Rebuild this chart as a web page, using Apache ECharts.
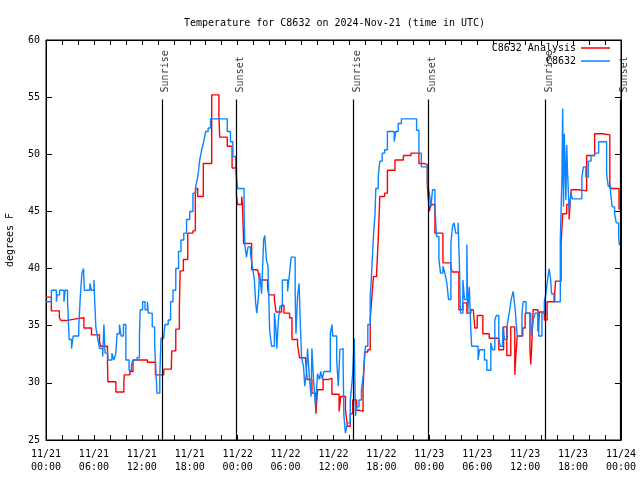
<!DOCTYPE html>
<html><head><meta charset="utf-8">
<script src="https://cdn.jsdelivr.net/npm/echarts@6/dist/echarts.min.js"></script>
<style>html,body{margin:0;padding:0;background:#fff}#c{width:640px;height:480px}</style>
</head><body><div id="c"></div><script>
const FONT = '"DejaVu Sans Mono", "Liberation Mono", monospace';
const titleText = 'Temperature for C8632 on 2024-Nov-21 (time in UTC)';
const xTickLabels = ['11/21\n00:00','11/21\n06:00','11/21\n12:00','11/21\n18:00',
  '11/22\n00:00','11/22\n06:00','11/22\n12:00','11/22\n18:00',
  '11/23\n00:00','11/23\n06:00','11/23\n12:00','11/23\n18:00','11/24\n00:00'];
const sunHours = [14.5, 23.875, 38.5, 47.875, 62.5, 71.875];
const sunNames = ['Sunrise','Sunset','Sunrise','Sunset','Sunrise','Sunset'];
// [hours since 11/21 00:00 UTC, degrees F]
const analysisData = [[0,37.5],[0.67,36.3],[1.67,35.7],[1.9,35.45],[2.5,35.6],[3.75,35.7],[4.75,34.8],[5.7,34.2],[6.7,33.6],[6.85,33.2],[7.7,31.8],[7.75,30.1],[8.75,29.2],[9.75,30.1],[9.8,30.7],[10.5,31.0],[10.9,32.0],[12.7,31.8],[13.7,30.7],[14.75,31.2],[15.7,31.7],[15.75,32.8],[16.25,34.7],[16.7,36.7],[16.8,39.8],[17.2,40.8],[17.75,43.1],[18.4,43.3],[18.7,47.0],[19.0,46.3],[19.7,49.2],[20.75,55.2],[21.65,53.4],[21.75,51.5],[22.7,50.7],[23.3,48.8],[23.85,46.4],[24.0,45.6],[24.5,46.3],[24.6,45.6],[24.75,42.2],[25.75,39.9],[26.5,39.8],[26.75,39.0],[27.75,38.3],[27.9,37.7],[28.6,37.3],[28.8,36.2],[29.5,36.8],[29.8,36.1],[30.5,35.7],[30.8,33.8],[31.5,33.3],[31.75,32.2],[32.5,32.0],[32.7,30.3],[33.3,29.1],[33.75,28.4],[33.8,27.3],[33.9,28.4],[34.0,29.4],[34.7,30.3],[35.4,30.4],[35.8,29.0],[36.7,27.5],[36.9,28.8],[37.5,27.6],[37.75,26.2],[38.1,27.3],[38.4,28.5],[38.9,27.6],[39.3,27.5],[39.7,29.4],[39.9,32.7],[40.3,32.9],[40.6,35.5],[40.75,37.0],[41.0,39.3],[41.4,39.7],[41.6,42.5],[41.8,46.3],[42.4,46.6],[42.75,48.6],[43.7,49.5],[44.75,49.9],[45.7,50.1],[46.7,49.2],[47.3,49.1],[47.75,47.2],[48.0,45.0],[48.2,45.6],[48.7,43.1],[49.7,40.5],[50.7,40.0],[50.9,39.7],[51.7,36.4],[52.2,37.0],[52.7,36.1],[53.2,36.4],[53.5,36.5],[53.7,34.8],[54.0,35.9],[54.7,34.3],[55.5,33.9],[56.7,32.9],[57.3,34.9],[57.7,32.4],[58.2,34.9],[58.7,30.7],[58.8,32.0],[59.0,34.1],[59.7,34.8],[60.0,36.1],[60.6,32.9],[60.7,31.6],[60.8,32.9],[61.0,36.4],[61.6,34.5],[61.8,36.2],[62.4,35.5],[62.75,37.1],[63.7,37.8],[63.8,38.9],[64.5,42.2],[64.7,44.8],[65.2,45.6],[65.5,44.3],[65.75,46.9],[66.7,46.8],[67.7,49.9],[68.7,51.8],[69.7,51.7],[70.6,47.0],[71.75,45.2],[72,45.2]];
const observedData = [[0,37.1],[0.67,38.1],[1.3,37.1],[1.4,37.7],[1.7,38.1],[2.25,37.1],[2.4,38.1],[2.7,37.1],[2.9,33.8],[3.2,33.0],[3.4,34.1],[4.1,34.9],[4.3,37.6],[4.5,39.6],[4.7,40.0],[4.8,38.1],[5.5,38.7],[5.7,38.1],[6.0,39.0],[6.1,37.1],[6.25,34.8],[6.5,33.8],[6.7,33.0],[7.1,32.3],[7.25,35.1],[7.4,32.6],[7.75,32.0],[8.25,32.6],[8.5,32.0],[8.75,32.6],[8.9,34.3],[9.2,35.1],[9.4,34.1],[9.7,35.1],[10.0,32.0],[10.4,31.1],[10.7,31.6],[10.9,32.0],[11.4,32.2],[11.7,34.1],[11.8,36.4],[12.1,37.1],[12.4,36.4],[12.7,37.1],[12.8,36.1],[13.3,34.9],[13.6,33.5],[13.75,31.1],[13.9,29.1],[14.25,30.6],[14.4,33.9],[14.75,34.1],[14.9,35.1],[15.3,35.5],[15.6,37.1],[15.9,38.1],[16.25,40.0],[16.6,41.5],[16.9,42.5],[17.25,43.1],[17.6,44.3],[18.0,45.0],[18.4,46.6],[18.75,47.2],[19.0,48.0],[19.25,49.5],[19.5,50.4],[19.75,51.1],[20.0,52.0],[20.3,52.3],[20.6,53.1],[22.7,52.0],[23.1,51.1],[23.4,49.8],[23.75,48.6],[24.0,47.0],[24.8,45.0],[24.9,42.1],[25.1,41.0],[25.3,41.9],[25.6,41.3],[25.75,40.6],[25.9,39.9],[26.1,39.0],[26.25,37.0],[26.4,36.1],[26.6,37.6],[26.75,39.6],[27.0,37.8],[27.25,42.5],[27.4,42.9],[27.6,40.8],[27.8,40.2],[28.0,34.6],[28.25,33.2],[28.6,36.1],[28.8,34.6],[28.9,33.0],[29.1,35.5],[29.3,36.7],[29.6,39.0],[30.25,38.0],[30.5,39.6],[30.7,41.0],[31.2,37.8],[31.3,34.3],[31.5,37.6],[31.7,38.7],[31.8,36.1],[32.0,32.2],[32.25,31.4],[32.4,29.7],[32.6,30.8],[32.75,33.0],[33.0,30.3],[33.2,28.8],[33.3,33.0],[33.5,30.3],[33.75,27.9],[34.0,30.8],[34.25,30.3],[34.4,31.0],[34.6,30.3],[34.8,31.0],[35.6,34.3],[35.8,35.1],[35.9,34.1],[36.4,32.0],[36.6,29.7],[36.8,32.9],[37.0,33.0],[37.2,31.7],[37.3,27.1],[37.5,25.6],[37.75,26.5],[38.1,28.5],[38.25,29.5],[38.4,30.8],[38.6,33.9],[38.75,27.1],[38.9,27.9],[39.2,28.5],[39.5,29.4],[39.75,30.8],[40.0,33.2],[40.3,35.1],[40.6,37.6],[40.75,39.3],[41.0,42.8],[41.2,44.8],[41.3,47.0],[41.6,48.0],[41.8,49.4],[42.1,50.1],[42.4,50.4],[42.75,52.0],[43.6,51.1],[43.8,52.0],[44.1,52.7],[44.5,53.1],[46.4,52.1],[46.7,50.1],[47.0,48.9],[47.75,47.5],[48.0,46.6],[48.2,45.4],[48.4,46.9],[48.7,45.4],[48.9,42.8],[49.2,40.8],[49.4,39.6],[49.7,40.2],[49.95,39.6],[50.2,38.7],[50.4,37.3],[50.7,42.2],[50.9,43.7],[51.1,44.0],[51.3,43.1],[51.6,44.0],[51.75,40.8],[51.9,36.1],[52.2,39.0],[52.4,37.3],[52.7,42.1],[52.8,36.1],[53.0,38.4],[53.2,34.6],[53.3,33.2],[54.1,32.0],[54.3,32.9],[54.9,32.0],[55.2,31.1],[55.7,33.5],[55.9,32.9],[56.2,35.5],[56.4,35.9],[56.7,33.8],[56.9,33.2],[57.2,34.9],[57.4,33.8],[57.75,35.1],[58.0,36.1],[58.25,37.3],[58.5,38.0],[58.75,36.4],[59.0,34.1],[59.6,36.1],[59.75,37.1],[60.1,36.1],[60.7,35.5],[60.8,34.1],[61.0,35.5],[61.25,36.1],[61.7,34.1],[62.1,36.1],[62.4,37.1],[62.6,37.8],[62.8,39.0],[63.0,40.0],[63.2,39.0],[63.3,37.8],[63.6,37.1],[64.4,42.5],[64.6,47.8],[64.7,54.0],[64.8,45.4],[64.9,51.8],[65.1,46.0],[65.2,50.8],[65.3,48.6],[65.5,45.1],[65.75,46.6],[65.9,46.1],[67.1,48.0],[67.3,48.9],[67.6,48.0],[67.9,49.4],[68.25,49.9],[68.7,50.1],[69.2,51.1],[70.2,48.3],[70.4,47.2],[70.7,46.6],[70.9,45.4],[71.2,44.8],[71.4,44.0],[71.7,42.8],[71.8,42.1],[72,42.1]];

const txt = {fontFamily: FONT, fontSize: 10, color: '#000'};
const chart = echarts.init(document.getElementById('c'), null, {renderer: 'canvas'});
function xAx(pos, showLabel) {
  return {
    type: 'value', min: 0, max: 72, interval: 2, position: pos,
    axisLine: {show: true, onZero: false, lineStyle: {color: '#000', width: 1}},
    axisTick: {show: true, inside: true, length: 5, lineStyle: {color: '#000'}},
    splitLine: {show: false},
    axisLabel: {show: showLabel, ...txt, margin: 8, lineHeight: 13,
      formatter: v => { const r = Math.round(v); return r % 6 === 0 ? xTickLabels[r / 6] : ''; }}
  };
}
function yAx(pos, showLabel) {
  return {
    type: 'value', min: 25, max: 60, interval: 5, position: pos,
    axisLine: {show: true, onZero: false, lineStyle: {color: '#000', width: 1}},
    axisTick: {show: true, inside: true, length: 6, lineStyle: {color: '#000'}},
    splitLine: {show: false},
    axisLabel: {show: showLabel, ...txt, margin: 6}
  };
}
const y0 = yAx('left', true);
Object.assign(y0, {name: 'degrees F', nameLocation: 'middle', nameGap: 31, nameRotate: 90, nameTextStyle: {...txt}});

const legendCommon = {right: 30, align: 'right', orient: 'vertical', icon: 'rect', itemWidth: 29, itemHeight: 1.5,
  selectedMode: false, textStyle: {...txt}, padding: 0, itemGap: 0};

chart.setOption({
  animation: false,
  backgroundColor: '#fff',
  textStyle: {...txt},
  title: {text: titleText, left: 179, top: 13, textStyle: {...txt, fontWeight: 'normal'}},
  legend: [
    {...legendCommon, data: ['C8632 Analysis'], top: 43},
    {...legendCommon, data: ['C8632'], top: 56}
  ],
  grid: {left: 46, right: 19, top: 40, bottom: 40, show: true, borderColor: '#000', borderWidth: 1,
         backgroundColor: 'transparent', containLabel: false, outerBoundsMode: 'none'},
  xAxis: [xAx('bottom', true), xAx('top', false)],
  yAxis: [y0, yAx('right', false)],
  series: [
    {type: 'scatter', name: 'sun', xAxisIndex: 0, yAxisIndex: 0, symbolSize: 0, silent: true, z: 1,
     data: sunHours.map((h, i) => ({value: [h, 54.8], name: sunNames[i]})),
     label: {show: true, formatter: p => p.name, position: 'top', distance: 7, rotate: 90, align: 'left', verticalAlign: 'middle', offset: [0, 4], ...txt},
     markLine: {symbol: ['none', 'none'], silent: true, label: {show: false}, animation: false,
       lineStyle: {color: '#000', width: 1.2, type: 'solid'},
       data: sunHours.map(h => [{coord: [h, 25]}, {coord: [h, 54.8]}])}},
    {type: 'line', name: 'C8632 Analysis', data: analysisData, step: 'end', symbol: 'none', z: 2,
     lineStyle: {color: '#ff0000', width: 1.4}, itemStyle: {color: '#ff0000'}},
    {type: 'line', name: 'C8632', data: observedData, step: 'end', symbol: 'none', z: 3,
     lineStyle: {color: '#0a84ff', width: 1.4}, itemStyle: {color: '#0a84ff'}}
  ]
});
</script></body></html>
